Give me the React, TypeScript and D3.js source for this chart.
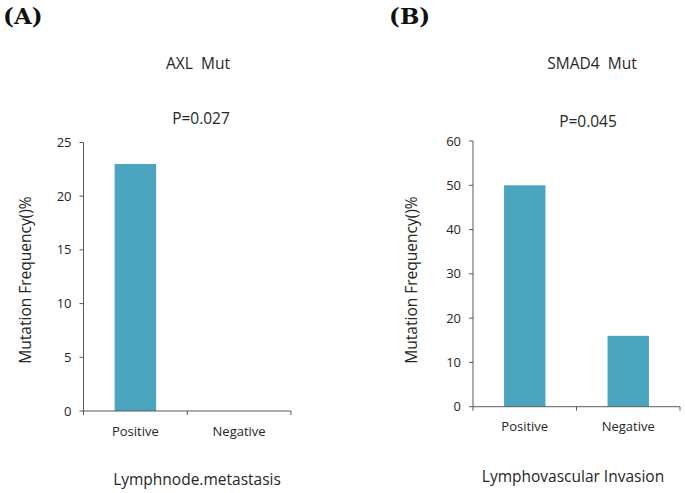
import React from "react";
import * as d3 from "d3";

const categories = ["Positive", "Negative"];
const axlValues = [23, 0];
const smad4Values = [50, 16];
const axlTicks = [0, 5, 10, 15, 20, 25];
const smad4Ticks = [0, 10, 20, 30, 40, 50, 60];

const BAR = "#4BA5BE";
const AXIS = "#595959";
const TEXT = "#262626";
const FONT = "'Open Sans', sans-serif";

type PanelProps = {
  letter: string;
  letterX: number;
  title: string;
  titleX: number;
  pval: string;
  pX: number;
  pY: number;
  values: number[];
  ticks: number[];
  yMax: number;
  x0: number;
  x1: number;
  yTop: number;
  yBottom: number;
  yTitleX: number;
  xTitle: string;
  xTitleX: number;
  xTitleY: number;
  tickLabelY: number;
};

function Panel(p: PanelProps) {
  const x = d3.scaleBand<string>().domain(categories).range([p.x0, p.x1]).paddingInner(0.6).paddingOuter(0.3);
  const y = d3.scaleLinear().domain([0, p.yMax]).range([p.yBottom, p.yTop]);
  const bw = (p.x1 - p.x0) / categories.length;
  const bandCenter = (c: string) => p.x0 + categories.indexOf(c) * bw + bw / 2;
  return (
    <g>
      <text x={p.letterX} y={24} fontFamily="'DejaVu Serif', serif" fontWeight="bold" fontSize={23} fill="#111">{p.letter}</text>
      <text x={p.titleX} y={69} textAnchor="middle" fontFamily={FONT} fontSize={15.5} fill={TEXT} style={{ whiteSpace: "pre" }}>{p.title}</text>
      <text x={p.pX} y={p.pY} textAnchor="middle" fontFamily={FONT} fontSize={15.5} fill={TEXT}>{p.pval}</text>
      {categories.map((c, i) => (
        <rect key={c} x={x(c)} y={y(p.values[i])} width={x.bandwidth()} height={p.yBottom - y(p.values[i])} fill={BAR} />
      ))}
      <line x1={p.x0} x2={p.x0} y1={p.yTop} y2={p.yBottom} stroke={AXIS} strokeWidth={1} />
      <line x1={p.x0} x2={p.x1} y1={p.yBottom} y2={p.yBottom} stroke={AXIS} strokeWidth={1} />
      {p.ticks.map((t) => (
        <g key={t}>
          <line x1={p.x0 - 4} x2={p.x0} y1={y(t)} y2={y(t)} stroke={AXIS} />
          <text x={p.x0 - 12} y={y(t)} dy="0.35em" textAnchor="end" fontFamily={FONT} fontSize={13} fill={TEXT}>{t}</text>
        </g>
      ))}
      {[p.x0, (p.x0 + p.x1) / 2, p.x1].map((bx, i) => (
        <line key={i} x1={bx} x2={bx} y1={p.yBottom} y2={p.yBottom + 4} stroke={AXIS} />
      ))}
      {categories.map((c) => (
        <text key={c} x={bandCenter(c)} y={p.tickLabelY} dy="0.35em" textAnchor="middle" fontFamily={FONT} fontSize={13} fill={TEXT}>{c}</text>
      ))}
      <text transform={`translate(${p.yTitleX},280) rotate(-90)`} dy="0.35em" textAnchor="middle" fontFamily={FONT} fontSize={15.5} fill={TEXT}>Mutation Frequency()%</text>
      <text x={p.xTitleX} y={p.xTitleY} dy="0.35em" textAnchor="middle" fontFamily={FONT} fontSize={15.5} fill={TEXT}>{p.xTitle}</text>
    </g>
  );
}

export default function App() {
  return (
    <svg width={685} height={493} style={{ position: "absolute", left: 0, top: 0, background: "#fff" }}>
      <rect width={685} height={493} fill="#fff" />
      <Panel letter="(A)" letterX={3} title="AXL  Mut" titleX={198} pval="P=0.027" pX={201} pY={124}
        values={axlValues} ticks={axlTicks} yMax={25} x0={83.5} x1={291} yTop={142.5} yBottom={411}
        yTitleX={26} xTitle="Lymphnode.metastasis" xTitleX={197} xTitleY={480} tickLabelY={431.5} />
      <Panel letter="(B)" letterX={389} title="SMAD4  Mut" titleX={592} pval="P=0.045" pX={588} pY={127}
        values={smad4Values} ticks={smad4Ticks} yMax={60} x0={473} x1={680} yTop={141} yBottom={406.7}
        yTitleX={412} xTitle="Lymphovascular Invasion" xTitleX={573} xTitleY={477} tickLabelY={426.5} />
    </svg>
  );
}
